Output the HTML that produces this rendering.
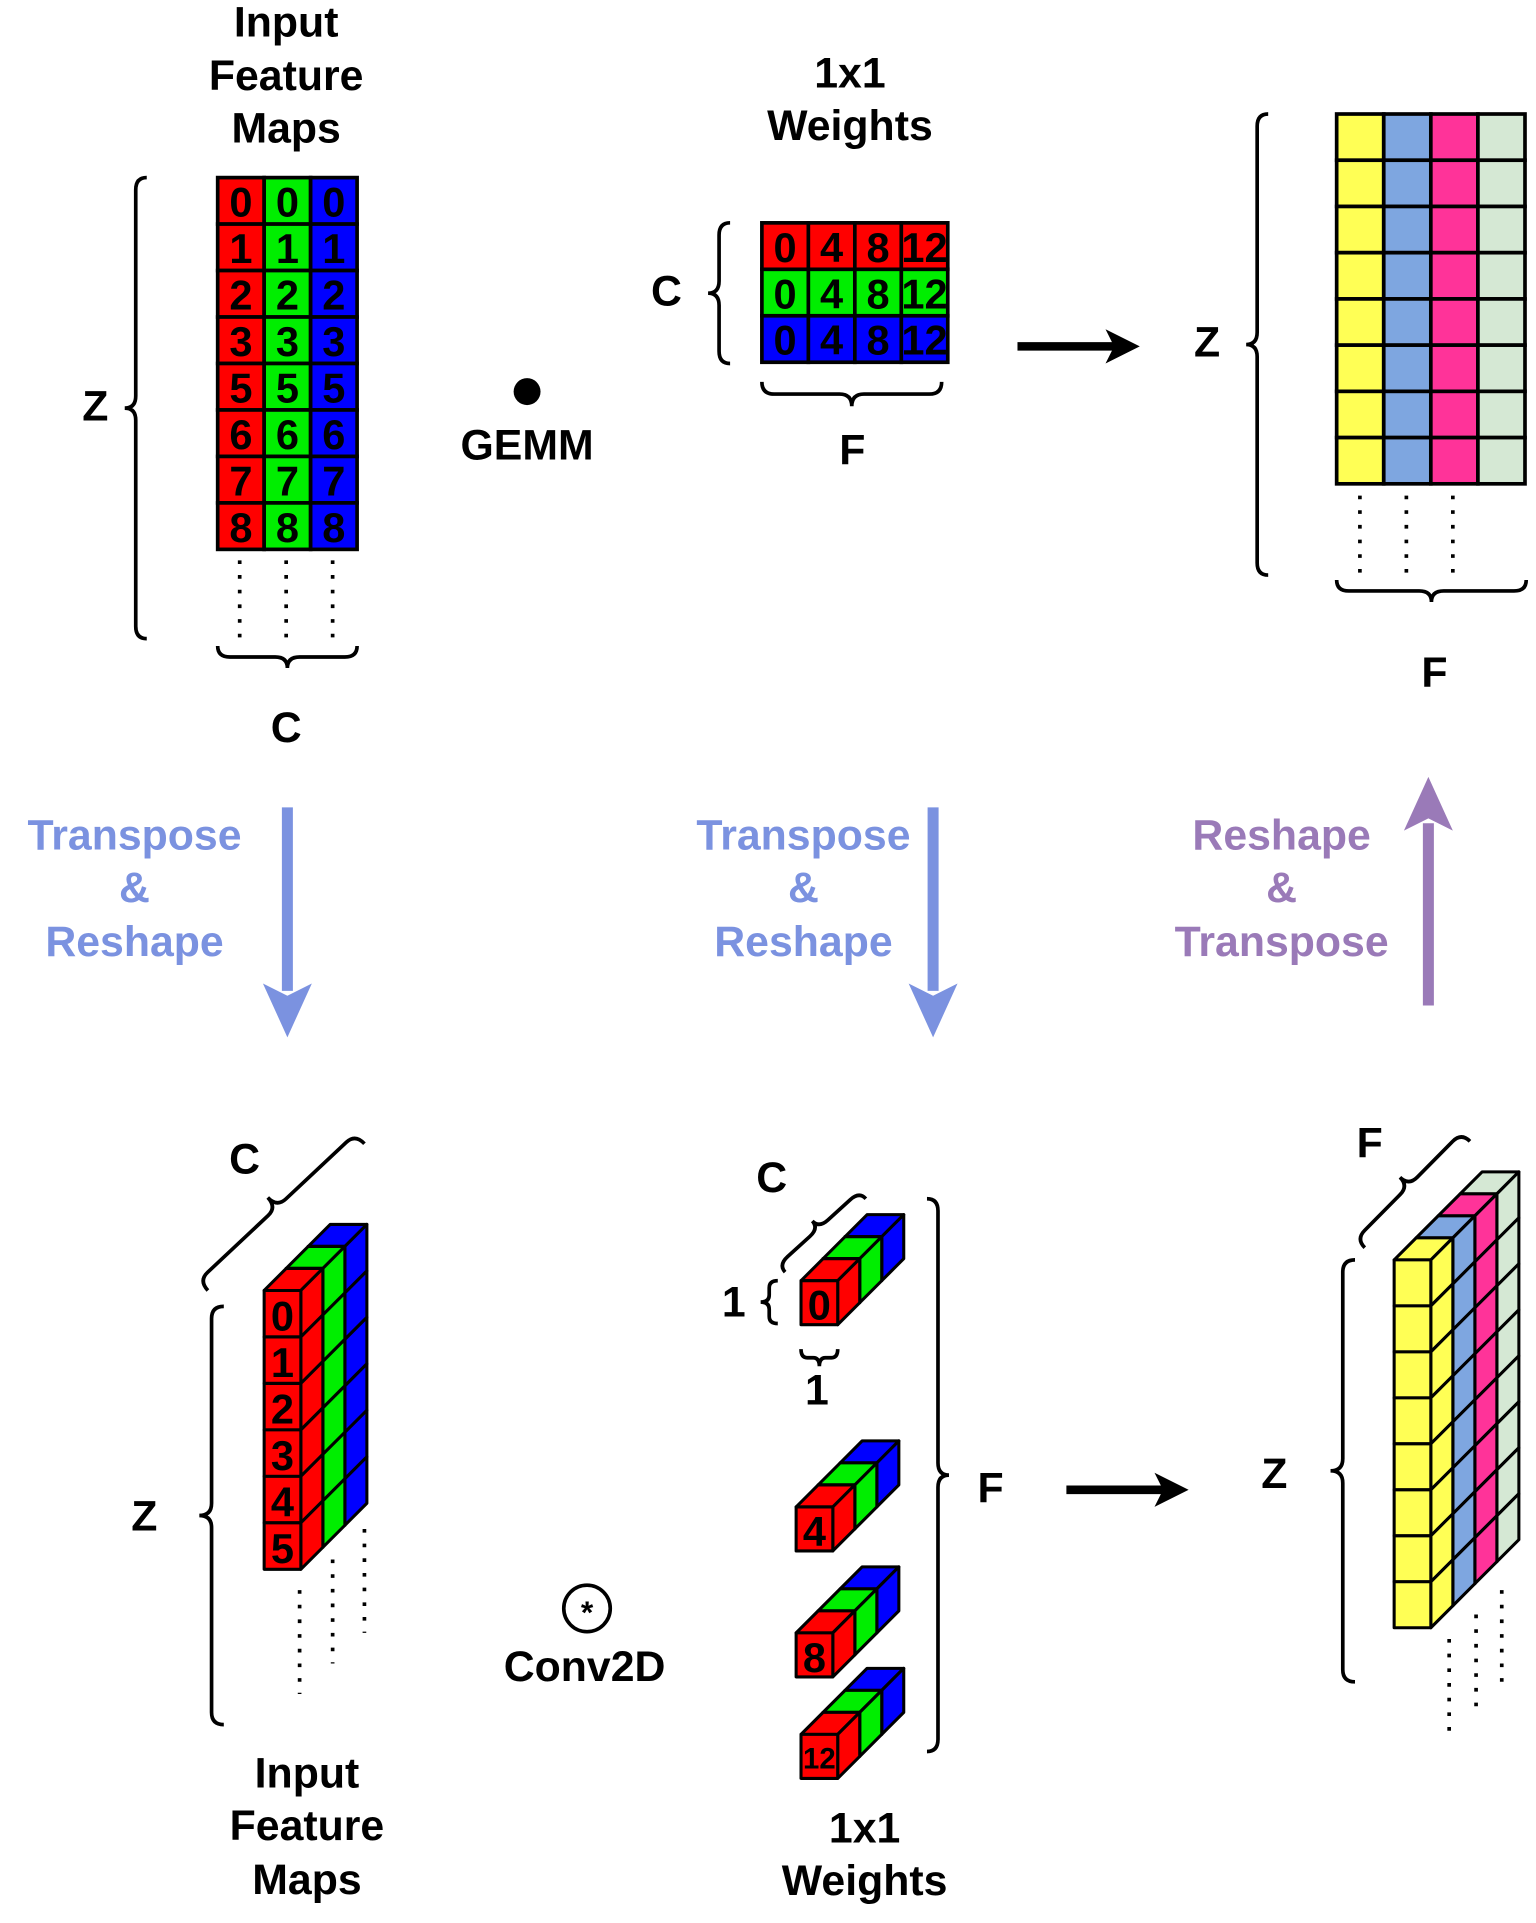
<!DOCTYPE html>
<html><head><meta charset="utf-8"><style>
html,body{margin:0;padding:0;background:#fff;}
svg{display:block;}
text{font-family:"Liberation Sans",Arial,sans-serif;font-weight:bold;}
</style></head><body>
<svg id="s" width="1536" height="1923" viewBox="0 0 1256 1572" xmlns="http://www.w3.org/2000/svg">
<defs>
<marker id="ab" markerWidth="4" markerHeight="4" refX="2" refY="2" orient="auto" markerUnits="strokeWidth"><path d="M0,0 L4,2 L0,4 L1,2 Z" fill="#000"/></marker>
</defs>
</svg>
<script>
const S=document.getElementById('s');
const NS='http://www.w3.org/2000/svg';
const FS=35, CFS=34;
function el(tag,attrs,parent){const e=document.createElementNS(NS,tag);for(const k in attrs)e.setAttribute(k,attrs[k]);(parent||S).appendChild(e);return e;}
function txt(x,y,t,size,color,name){const e=el('text',{x:x,y:y,'font-size':size,fill:color||'#000','text-anchor':'middle','dominant-baseline':'central'});e.textContent=t;


return e;}
function brace(x1,y1,x2,y2,h,name){
 const L=Math.hypot(x2-x1,y2-y1),a=Math.atan2(y2-y1,x2-x1)*180/Math.PI,r=Math.min(10,L/6),m=L/2;
 const d=`M0,0 Q0,${-h/2} ${r},${-h/2} L${m-r},${-h/2} Q${m},${-h/2} ${m},${-h} Q${m},${-h/2} ${m+r},${-h/2} L${L-r},${-h/2} Q${L},${-h/2} ${L},0`;
 const p=el('path',{d:d,fill:'none',stroke:'#000','stroke-width':3,transform:`translate(${x1},${y1}) rotate(${a})`});
 
 
}
function dots(x,y1,y2,name){const p=el('line',{x1:x,y1:y1,x2:x,y2:y2,stroke:'#000','stroke-width':3,'stroke-dasharray':'3,9'});

}
function lines(xs,ys,arr,size,color,name){arr.forEach((t,i)=>txt(xs,ys[i],t,size,color,name));}

// ---------- top-left grid ----------
const inVals=['0','1','2','3','5','6','7','8'];
const rgb=['#ff0000','#00ee00','#0000ff'];
lines(234,[18,62,105],['Input','Feature','Maps'],FS,'#000','input-title-top');
inVals.forEach((v,r)=>rgb.forEach((c,k)=>{
 const x=178+k*38,y=145+r*38;
 const rc=el('rect',{x:x,y:y,width:38,height:38,fill:c,stroke:'#000','stroke-width':3});
 
 
 txt(x+19,y+20,v,CFS,'#000','input-cell-value');
}));
[196,234,272].forEach(x=>dots(x,458,522,'input-dots'));
brace(120,522,120,145,18,'z-brace-top-left');txt(78,332,'Z',FS,'#000','z-label');
brace(292,528,178,528,18,'c-brace-top-left');txt(234,595,'C',FS,'#000','c-label');

// GEMM
el('circle',{cx:431,cy:320,r:11,fill:'#000'});
txt(431,364,'GEMM',FS,'#000','gemm-label');

// ---------- weights grid ----------
const wVals=['0','4','8','12'];
lines(695,[60,103],['1x1','Weights'],FS,'#000','weights-title-top');
rgb.forEach((c,r)=>wVals.forEach((v,k)=>{
 const x=623+k*38,y=182+r*38;
 const rc=el('rect',{x:x,y:y,width:38,height:38,fill:c,stroke:'#000','stroke-width':3});
 
 
 txt(x+19,y+20,v,CFS,'#000','weight-cell-value');
}));
brace(597,297,597,182,18,'c-brace-weights');txt(545,238,'C',FS,'#000','c-label-weights');
brace(770,312,623,312,20,'f-brace-weights');txt(697,368,'F',FS,'#000','f-label-weights');
el('line',{x1:832,y1:283,x2:918,y2:283,stroke:'#000','stroke-width':7,'marker-end':'url(#ab)'});

// ---------- output grid ----------
const outCols=['#ffff55','#7ea6e0','#ff3399','#d5e8d4'];
for(let r=0;r<8;r++)outCols.forEach((c,k)=>{
 const rc=el('rect',{x:1093+k*38.5,y:93+r*37.8,width:38.5,height:37.8,fill:c,stroke:'#000','stroke-width':3});
 
 
});
[1112,1150,1188].forEach(x=>dots(x,405,472,'output-dots'));
brace(1037,470,1037,93,18,'z-brace-output');txt(987,280,'Z',FS,'#000','z-label-output');
brace(1248,474,1093,474,18,'f-brace-output');txt(1173,550,'F',FS,'#000','f-label-output');

// ---------- transform arrows ----------
const blue='#7b92e0',purple='#9a7ab8';
function bigArrow(x,y1,y2,color,name){
 const dir=y2>y1?1:-1;
 const l=el('line',{x1:x,y1:y1,x2:x,y2:y2-dir*38,stroke:color,'stroke-width':9});
 
 
 el('path',{d:`M${x-20},${y2-dir*44} L${x},${y2} L${x+20},${y2-dir*44} L${x},${y2-dir*34} Z`,fill:color});
}
bigArrow(235,660,848,blue,'transpose-arrow-left');
lines(110,[683,726,770],['Transpose','&','Reshape'],FS,blue,'transpose-label-left');
bigArrow(763,660,848,blue,'transpose-arrow-middle');
lines(657,[683,726,770],['Transpose','&','Reshape'],FS,blue,'transpose-label-middle');
bigArrow(1168,822,635,purple,'reshape-arrow-right');
lines(1048,[683,726,770],['Reshape','&','Transpose'],FS,purple,'reshape-label-right');

// ---------- 3D stacks ----------
function stack(x0,y0,w,h,dx,dy,colors,rows,labels,name,fs){
 for(let k=colors.length-1;k>=0;k--){
  const ox=x0+k*dx,oy=y0-k*dy,c=colors[k];
  for(let r=0;r<rows;r++){
   const y=oy+r*h;
   const st={fill:c,stroke:'#000','stroke-width':2.5,'stroke-linejoin':'round'};
   if(r===0){const t=el('polygon',Object.assign({points:`${ox},${y} ${ox+dx},${y-dy} ${ox+w+dx},${y-dy} ${ox+w},${y}`},st));
    
    }
   const sd=el('polygon',Object.assign({points:`${ox+w},${y} ${ox+w+dx},${y-dy} ${ox+w+dx},${y+h-dy} ${ox+w},${y+h}`},st));
   
   
   const f=el('rect',Object.assign({x:ox,y:y,width:w,height:h},st));
   
   
   if(k===0&&labels&&labels[r]!=null)txt(ox+w/2,y+h/2+2,labels[r],fs||CFS,'#000',name+'-value');
  }
 }
}
// bottom-left input
stack(216,1055,30,38,18,18,rgb,6,['0','1','2','3','4','5'],'input-3d');
[245,272,298].forEach((x,i)=>dots(x,1300-i*25,1385-i*25,'input-3d-dots'));
brace(183,1410,183,1068,20,'z-brace-bottom-left');txt(118,1240,'Z',FS,'#000','z-label-bottom-left');
brace(170,1055,298,935,22,'c-brace-bottom-left');txt(200,948,'C',FS,'#000','c-label-bottom-left');
lines(251,[1450,1493,1537],['Input','Feature','Maps'],FS,'#000','input-title-bottom');

// Conv2D
el('circle',{cx:480,cy:1315,r:19,fill:'none',stroke:'#000','stroke-width':3});
txt(480,1318,'*',26,'#000','conv-symbol');
txt(478,1363,'Conv2D',FS,'#000','conv2d-label');

// weights cubes
const cubeLabels=['0','4','8','12'];
const cubeY=[1047,1232,1335,1418];
const cubeX=[655,651,651,655];
cubeLabels.forEach((v,i)=>stack(cubeX[i],cubeY[i],30,36,18,18,rgb,1,[v],'weight-cube',v==='12'?24:CFS));
brace(642,1040,708,980,16,'c-brace-cube');txt(631,963,'C',FS,'#000','c-label-cube');
brace(636,1082,636,1047,14,'one-brace-vertical');txt(600,1065,'1',FS,'#000','one-label-vertical');
brace(685,1103,655,1103,14,'one-brace-horizontal');txt(668,1137,'1',FS,'#000','one-label-horizontal');
brace(758,980,758,1432,18,'f-brace-weights-bottom');txt(810,1217,'F',FS,'#000','f-label-weights-bottom');
lines(707,[1495,1538],['1x1','Weights'],FS,'#000','weights-title-bottom');

el('line',{x1:872,y1:1218,x2:958,y2:1218,stroke:'#000','stroke-width':7,'marker-end':'url(#ab)'});

// output 3D
stack(1140,1030,30,37.6,18,18,outCols,8,null,'output-3d');
[1185,1207,1228].forEach((x,i)=>dots(x,1340-i*20,1415-i*20,'output-3d-dots'));
brace(1108,1375,1108,1030,20,'z-brace-output-3d');txt(1042,1205,'Z',FS,'#000','z-label-output-3d');
brace(1116,1020,1202,933,20,'f-brace-output-3d');txt(1120,935,'F',FS,'#000','f-label-output-3d');
</script>
</body></html>
